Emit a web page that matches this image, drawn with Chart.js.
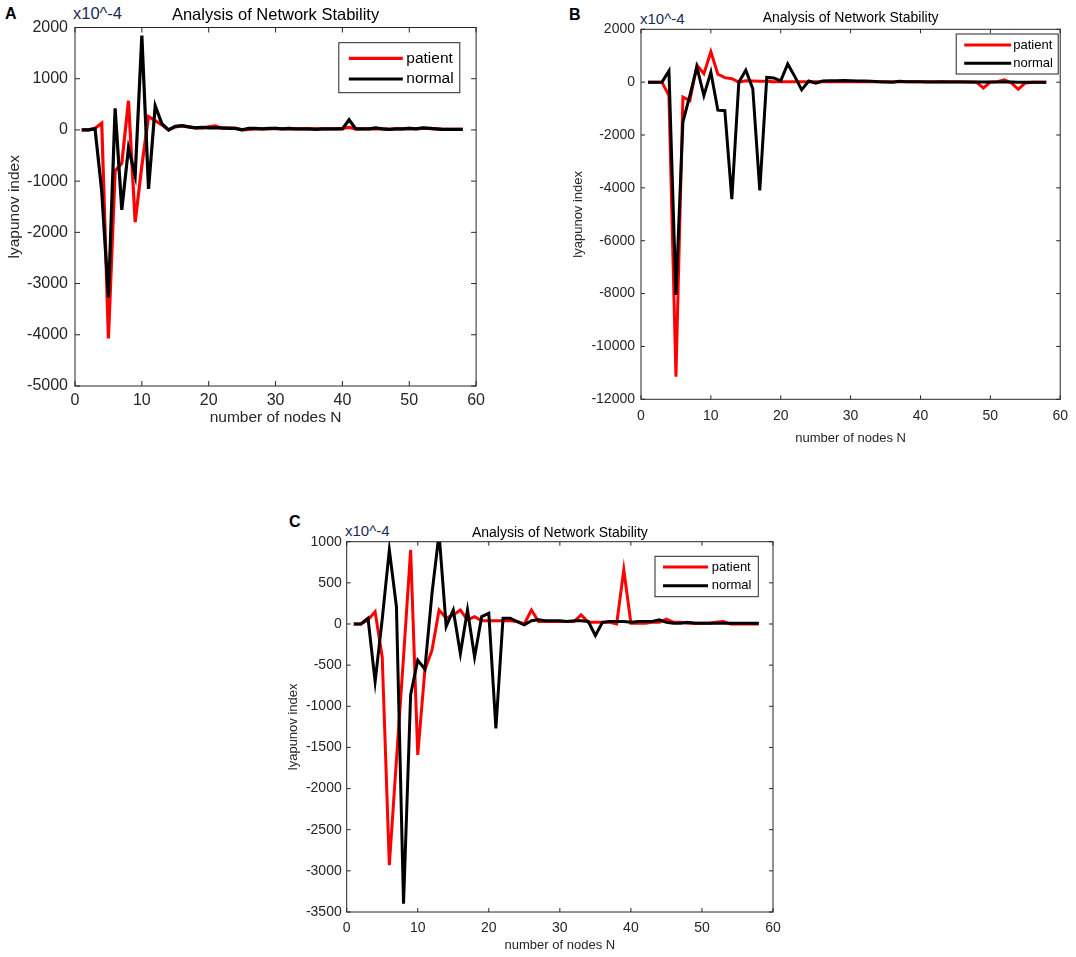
<!DOCTYPE html>
<html>
<head>
<meta charset="utf-8">
<script src="https://cdn.jsdelivr.net/npm/chart.js@4.4.0/dist/chart.umd.min.js"></script>
<style>
  body { margin: 0; background: #fff; width: 1076px; height: 957px; position: relative; overflow: hidden;
         font-family: 'Liberation Sans', Arial, sans-serif; }
  canvas { position: absolute; }
  .tag { position: absolute; font-weight: bold; font-size: 16px; line-height: 1; color: #000; }
  .exp { position: absolute; line-height: 1; color: #1b2a5a; white-space: nowrap; }
</style>
</head>
<body>
<div class="tag" style="left:5px;top:6px">A</div>
<div class="tag" style="left:569px;top:7px">B</div>
<div class="tag" style="left:289px;top:514px">C</div>

<div class="exp" style="left:73px;top:5px;font-size:16.5px">x10^-4</div>
<div class="exp" style="left:640px;top:11px;font-size:15px">x10^-4</div>
<div class="exp" style="left:345px;top:523px;font-size:15px">x10^-4</div>

<canvas id="chartA" width="490" height="430" style="left:0;top:0"></canvas>
<canvas id="chartB" width="516" height="450" style="left:560px;top:0"></canvas>
<canvas id="chartC" width="520" height="457" style="left:270px;top:500px"></canvas>

<script>
// number of nodes N (x values)
const nodes = [1, 2, 3, 4, 5, 6, 7, 8, 9, 10, 11, 12, 13, 14, 15, 16, 17, 18, 19, 20,
  21, 22, 23, 24, 25, 26, 27, 28, 29, 30, 31, 32, 33, 34, 35, 36, 37, 38, 39, 40,
  41, 42, 43, 44, 45, 46, 47, 48, 49, 50, 51, 52, 53, 54, 55, 56, 57, 58];
const xTicks = [0, 10, 20, 30, 40, 50, 60];

const seriesNames = ['patient', 'normal'];
const seriesColors = ['#ff0000', '#000000'];

// panel A (lyapunov index, x10^-4)
const patientA = [0, 0, 30, 130, -4070, -800, -650, 570, -1800, -700, 260, 180, 100, 0, 60, 80, 60, 40, 40, 60,
  80, 30, 40, 30, 0, 10, 20, 20, 20, 30, 20, 20, 20, 20, 20, 20, 20, 20, 20, 30,
  50, 20, 20, 20, 20, 20, 10, 20, 20, 30, 20, 30, 30, 20, 10, 10, 10, 10];
const normalA = [0, 0, 20, -1200, -3270, 420, -1560, -350, -890, 1840, -1150, 470, 120, 0, 70, 85, 60, 40, 50, 40,
  40, 40, 30, 30, 0, 30, 30, 20, 30, 30, 20, 30, 20, 20, 20, 10, 20, 20, 20, 20,
  200, 20, 20, 20, 40, 20, 10, 20, 20, 30, 20, 40, 30, 20, 10, 10, 10, 10];
const yTicksA = [-5000, -4000, -3000, -2000, -1000, 0, 1000, 2000];

// panel B
const patientB = [0, 0, 0, -510, -11150, -570, -700, 640, 320, 1150, 300, 170, 130, 0, 50, 40, 30, 30, 20, 20,
  20, 20, 20, 20, 20, 20, 20, 20, 20, 20, 20, 20, 20, 20, 20, 20, 20, 20, 20, 20,
  20, 20, 20, 20, 20, 20, 10, 0, -220, 0, 20, 90, -30, -270, -30, 0, 0, 0];
const normalB = [0, 0, 0, 420, -8050, -1500, -500, 570, -510, 380, -1060, -1080, -4430, 0, 450, -250, -4100, 180, 160, 50,
  690, 220, -290, 40, -40, 40, 50, 50, 60, 50, 40, 40, 30, 20, 10, 0, 30, 20, 20, 20,
  10, 10, 20, 10, 10, 10, 10, 10, 10, 10, 10, 10, 10, 0, 0, 0, 0, 0];
const yTicksB = [-12000, -10000, -8000, -6000, -4000, -2000, 0, 2000];

// panel C
const patientC = [0, 0, 50, 150, -400, -2930, -1650, -400, 900, -1590, -560, -320, 170, 70, 110, 170, 50, 90, 40, 40,
  40, 40, 40, 30, 0, 170, 30, 30, 30, 30, 30, 30, 110, 20, 20, 20, 20, 0, 660, 10,
  10, 10, 20, 20, 60, 20, 20, 10, 10, 10, 10, 20, 30, 0, 0, 0, 0, 0];
const normalC = [0, 0, 70, -700, 60, 900, 210, -3400, -860, -440, -550, 370, 1100, -30, 170, -360, 170, -400, 90, 130,
  -1270, 70, 70, 30, -10, 40, 50, 40, 40, 40, 30, 40, 40, 30, -140, 20, 30, 30, 30, 20,
  30, 30, 30, 50, 20, 10, 10, 20, 10, 10, 10, 10, 10, 10, 10, 10, 10, 10];
const yTicksC = [-3500, -3000, -2500, -2000, -1500, -1000, -500, 0, 500, 1000];

const fontFam = "'Liberation Sans', Arial, sans-serif";
const axisColor = '#262626';

// MATLAB-like axes box, inward ticks, title and boxed legend
const matlabFrame = {
  id: 'matlabFrame',
  afterDatasetsDraw(chart, args, o) {
    const { ctx, chartArea: a, scales: { x, y } } = chart;
    ctx.save();
    ctx.strokeStyle = axisColor;
    ctx.lineWidth = 1;
    ctx.strokeRect(a.left, a.top, a.right - a.left, a.bottom - a.top);
    ctx.beginPath();
    x.ticks.forEach(t => {
      const px = x.getPixelForValue(t.value);
      ctx.moveTo(px, a.bottom); ctx.lineTo(px, a.bottom - o.tickLen);
      ctx.moveTo(px, a.top); ctx.lineTo(px, a.top + o.tickLen);
    });
    y.ticks.forEach(t => {
      const py = y.getPixelForValue(t.value);
      ctx.moveTo(a.left, py); ctx.lineTo(a.left + o.tickLen, py);
      ctx.moveTo(a.right, py); ctx.lineTo(a.right - o.tickLen, py);
    });
    ctx.stroke();

    // title
    ctx.fillStyle = '#000';
    ctx.font = o.titleSize + 'px ' + fontFam;
    ctx.textAlign = 'center';
    ctx.textBaseline = 'middle';
    ctx.fillText(o.title, (a.left + a.right) / 2, o.titleY);

    // legend
    const L = o.legend;
    const bx = a.right - L.right - L.w;
    const by = a.top + L.top;
    ctx.fillStyle = '#fff';
    ctx.fillRect(bx, by, L.w, L.h);
    ctx.strokeStyle = axisColor;
    ctx.lineWidth = 1;
    ctx.strokeRect(bx, by, L.w, L.h);
    ctx.textAlign = 'left';
    ctx.font = L.size + 'px ' + fontFam;
    chart.data.datasets.forEach((ds, i) => {
      const ry = by + L.row0 + i * L.gap;
      ctx.strokeStyle = ds.borderColor;
      ctx.lineWidth = ds.borderWidth;
      ctx.beginPath();
      ctx.moveTo(bx + L.lx0, ry);
      ctx.lineTo(bx + L.lx1, ry);
      ctx.stroke();
      ctx.fillStyle = '#000';
      ctx.fillText(ds.label, bx + L.tx, ry);
    });
    ctx.restore();
  }
};

function buildChart(id, patient, normal, yTicks, look) {
  const toPoints = vals => vals.map((v, i) => ({ x: nodes[i], y: v }));
  return new Chart(document.getElementById(id), {
    type: 'line',
    data: {
      datasets: [
        { label: seriesNames[0], data: toPoints(patient), borderColor: seriesColors[0],
          borderWidth: look.lineW, pointRadius: 0, tension: 0, order: 2 },
        { label: seriesNames[1], data: toPoints(normal), borderColor: seriesColors[1],
          borderWidth: look.lineW, pointRadius: 0, tension: 0, order: 1 }
      ]
    },
    options: {
      responsive: false,
      animation: false,
      events: [],
      layout: { padding: look.pad },
      plugins: {
        legend: { display: false },
        tooltip: { enabled: false },
        matlabFrame: look
      },
      scales: {
        x: {
          type: 'linear',
          min: xTicks[0],
          max: xTicks[xTicks.length - 1],
          afterBuildTicks: s => { s.ticks = xTicks.map(v => ({ value: v })); },
          afterFit: s => { s.height = look.xH; },
          grid: { display: false, drawTicks: false },
          border: { display: false },
          ticks: { color: axisColor, font: { family: fontFam, size: look.tickSize },
                   padding: look.xPad, maxRotation: 0, autoSkip: false, callback: v => String(v) },
          title: { display: true, text: 'number of nodes N', color: axisColor,
                   font: { family: fontFam, size: look.axTitle }, padding: { top: 0, bottom: look.xTitlePad } }
        },
        y: {
          min: yTicks[0],
          max: yTicks[yTicks.length - 1],
          afterBuildTicks: s => { s.ticks = yTicks.map(v => ({ value: v })); },
          afterFit: s => { s.width = look.yW; },
          grid: { display: false, drawTicks: false },
          border: { display: false },
          ticks: { color: axisColor, font: { family: fontFam, size: look.tickSize },
                   padding: look.yPad, autoSkip: false, callback: v => String(v) },
          title: { display: true, text: 'lyapunov index', color: axisColor,
                   font: { family: fontFam, size: look.axTitle }, padding: { top: look.yTitlePad, bottom: 0 } }
        }
      }
    },
    plugins: [matlabFrame]
  });
}

buildChart('chartA', patientA, normalA, yTicksA, {
  pad: { top: 27.5, right: 12, left: 0, bottom: 0 },
  yW: 75, xH: 44, tickSize: 16, axTitle: 15.5, lineW: 3.2,
  xPad: 5, yPad: 7, yTitlePad: 5, xTitlePad: 3, tickLen: 5,
  title: 'Analysis of Network Stability', titleSize: 16.5, titleY: 15,
  legend: { right: 16.3, top: 15.2, w: 121, h: 50, row0: 15.6, gap: 20.7, lx0: 10, lx1: 64, tx: 67.5, size: 15.5 }
});

buildChart('chartB', patientB, normalB, yTicksB, {
  pad: { top: 29.3, right: 12, left: 0, bottom: 0 },
  yW: 81, xH: 50.7, tickSize: 14, axTitle: 13, lineW: 3,
  xPad: 8, yPad: 6, yTitlePad: 10.2, xTitlePad: 3.9, tickLen: 4,
  title: 'Analysis of Network Stability', titleSize: 14, titleY: 18.3,
  legend: { right: 2, top: 4.7, w: 102, h: 40, row0: 11, gap: 18.3, lx0: 8, lx1: 55, tx: 57, size: 13 }
});

buildChart('chartC', patientC, normalC, yTicksC, {
  pad: { top: 41.7, right: 17, left: 0, bottom: 0 },
  yW: 76.7, xH: 45, tickSize: 14, axTitle: 13, lineW: 3,
  xPad: 8, yPad: 5, yTitlePad: 15.2, xTitlePad: 3.9, tickLen: 4,
  title: 'Analysis of Network Stability', titleSize: 14, titleY: 32.7,
  legend: { right: 14.7, top: 14.6, w: 103.3, h: 40.4, row0: 10.7, gap: 18.8, lx0: 8, lx1: 53, tx: 56.7, size: 13 }
});
</script>
</body>
</html>
